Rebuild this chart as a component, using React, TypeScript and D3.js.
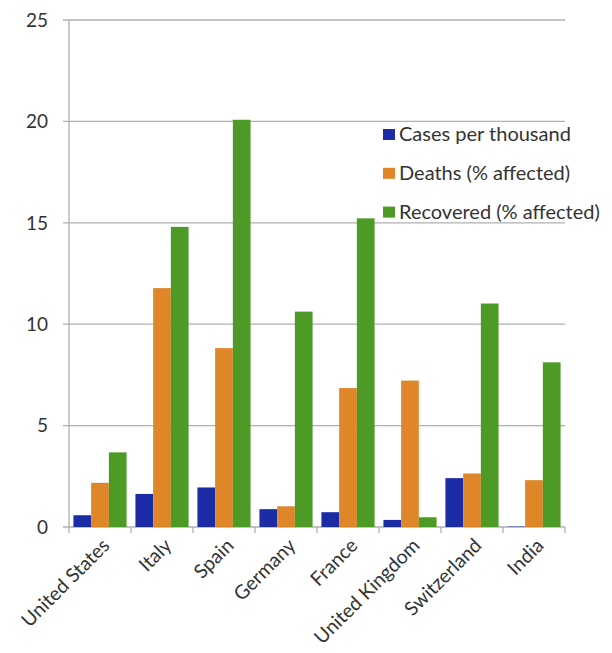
import React from "react";
import * as d3 from "d3";

const countries = ["United States", "Italy", "Spain", "Germany", "France", "United Kingdom", "Switzerland", "India"];
const seriesNames = ["Cases per thousand", "Deaths (% affected)", "Recovered (% affected)"];
const casesPerThousand = [0.58, 1.63, 1.95, 0.88, 0.73, 0.35, 2.41, 0.02];
const deathsPct = [2.18, 11.78, 8.82, 1.02, 6.85, 7.22, 2.64, 2.31];
const recoveredPct = [3.68, 14.8, 20.08, 10.62, 15.22, 0.48, 11.02, 8.12];
const yTicks = [0, 5, 10, 15, 20, 25];
const colors = ["#1c2ca5", "#df8629", "#4d9a27"];

const W = 612, H = 653;
const left = 69, right = 565, top = 20, bottom = 527;

export default function App() {
  const x = d3.scaleBand<string>().domain(countries).range([left, right]).paddingInner(0).paddingOuter(0);
  const inner = d3.scaleBand<number>().domain([0, 1, 2]).range([0, x.bandwidth()]).paddingInner(0).paddingOuter(0.25);
  const y = d3.scaleLinear().domain([0, 25]).range([bottom, top]);
  const series = [casesPerThousand, deathsPct, recoveredPct];
  const font = "Lato, 'Open Sans', sans-serif";
  const textColor = "#333333";
  const grid = "#b0b0b0";

  return (
    <svg width={W} height={H} style={{ position: "absolute", left: 0, top: 0, background: "#fff" }} fontFamily={font}>
      {yTicks.map((t) => (
        <g key={t}>
          <line x1={left - 6} x2={right} y1={y(t)} y2={y(t)} stroke={grid} strokeWidth={1.3} />
          <text x={48} y={y(t)} dy="0.36em" textAnchor="end" fontSize={19} fill={textColor}>{t}</text>
        </g>
      ))}
      <line x1={left} x2={left} y1={top} y2={bottom + 6} stroke={grid} strokeWidth={1.3} />
      {countries.map((c, i) => (
        <line key={"t" + i} x1={(x(c) as number) + x.bandwidth()} x2={(x(c) as number) + x.bandwidth()} y1={bottom} y2={bottom + 6} stroke={grid} strokeWidth={1.3} />
      ))}
      {series.map((vals, s) => (
        <g key={s} fill={colors[s]}>
          {vals.map((v, i) => (
            <rect key={i} x={(x(countries[i]) as number) + (inner(s) as number)} width={inner.bandwidth()} y={y(v)} height={bottom - y(v)} />
          ))}
        </g>
      ))}
      {countries.map((c, i) => {
        const cx = (x(c) as number) + x.bandwidth() / 2 + 6;
        return (
          <text key={"l" + i} transform={`translate(${cx},${bottom + 15}) rotate(-45)`} textAnchor="end" dy="0.35em" fontSize={19.5} fill={textColor}>{c}</text>
        );
      })}
      <g transform="translate(383,122)">
        <rect x={-4} y={0} width={226} height={100} fill="#fff" />
        {seriesNames.map((n, i) => (
          <g key={n} transform={`translate(0,${12 + i * 38.8})`}>
            <rect x={0} y={-5} width={12} height={11} fill={colors[i]} />
            <text x={16} y={0} dy="0.35em" fontSize={20} fill={textColor}>{n}</text>
          </g>
        ))}
      </g>
    </svg>
  );
}
